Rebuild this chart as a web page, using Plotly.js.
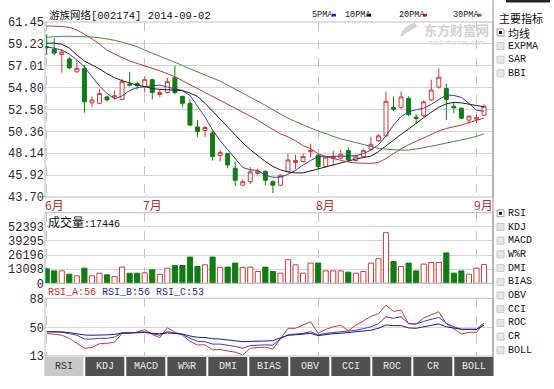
<!DOCTYPE html>
<html><head><meta charset="utf-8">
<script src="https://cdn.plot.ly/plotly-3.0.1.min.js"></script>
<style>html,body{margin:0;padding:0;background:#fff}#chart{width:554px;height:389px}</style>
</head><body><div id="chart"></div>
<script>
const dates = [
 '2014-06-12','2014-06-13','2014-06-16','2014-06-17','2014-06-18','2014-06-19','2014-06-20','2014-06-23','2014-06-24','2014-06-25','2014-06-26','2014-06-27','2014-06-30',
 '2014-07-01','2014-07-02','2014-07-03','2014-07-04','2014-07-07','2014-07-08','2014-07-09','2014-07-10','2014-07-11','2014-07-14','2014-07-15','2014-07-16','2014-07-17','2014-07-18','2014-07-21','2014-07-22','2014-07-23','2014-07-24','2014-07-25','2014-07-28','2014-07-29','2014-07-30','2014-07-31',
 '2014-08-01','2014-08-04','2014-08-05','2014-08-06','2014-08-07','2014-08-08','2014-08-11','2014-08-12','2014-08-13','2014-08-14','2014-08-15','2014-08-18','2014-08-19','2014-08-20','2014-08-21','2014-08-22','2014-08-25','2014-08-26','2014-08-27','2014-08-28','2014-08-29',
 '2014-09-01','2014-09-02'];
const openP  = [58.95,58.7,58.15,57.7,56.4,56.75,53.25,53.2,53.85,53.85,53.6,55.15,55.2,54.9,55.6,54.1,54.3,55.8,53.9,53.2,50.8,50.45,50.2,47.9,48.1,46.6,44.9,45.25,46.1,46.3,45.25,44.9,46.3,47.2,47.3,48.3,47.95,46.8,47.6,47.65,48.4,47.4,47.8,48.55,49.4,49.9,52.8,52.8,53.7,51.8,51.95,53.55,54.85,54.7,52.9,52.7,51.5,51.6,52.0];
const highP  = [60.2,59.8,58.7,57.9,57.6,57.1,53.9,54.65,54.0,54.5,55.7,56.4,55.4,55.9,55.7,54.6,55.8,57.0,54.0,53.6,51.5,50.9,50.4,48.5,48.15,47.3,45.5,46.75,46.6,46.4,45.4,46.0,48.1,48.0,48.1,49.1,48.0,47.9,48.4,48.5,48.7,48.0,48.6,49.8,50.1,54.4,53.9,54.4,53.9,52.1,53.5,55.6,56.75,55.2,53.3,52.8,52.0,52.1,53.1];
const lowP   = [58.1,58.1,56.3,56.65,56.3,52.25,52.8,53.1,53.4,53.6,53.5,54.9,54.6,54.3,53.6,53.8,54.2,54.1,52.8,50.9,49.8,49.8,47.4,47.3,46.6,44.8,44.85,45.0,45.9,44.9,44.1,44.8,46.2,46.5,47.2,47.7,46.6,46.7,46.9,47.5,47.3,47.3,47.7,48.4,49.3,49.8,52.4,52.6,51.9,51.1,51.8,53.4,54.7,51.5,52.2,51.6,51.1,51.2,51.9];
const closeP = [58.85,58.3,58.4,56.8,56.75,53.35,53.55,54.2,53.55,53.95,55.4,55.05,55.0,55.6,54.3,54.3,55.4,54.3,53.2,51.0,50.35,50.75,47.8,48.2,46.95,45.4,45.25,46.25,46.3,45.4,44.9,45.9,47.45,47.4,47.8,48.4,46.8,47.75,47.8,48.05,47.45,47.85,48.4,49.05,49.9,53.4,52.6,53.85,52.05,51.65,53.35,54.55,55.85,53.6,52.75,51.7,51.9,51.75,52.9];
const volume = [13400,11500,11500,8400,6900,14000,6900,9400,7800,6200,15000,9300,9300,9700,12500,8400,14000,16500,16500,24300,15600,17100,24300,14700,15000,18700,14700,15000,10900,15000,10900,9400,21800,17100,9400,18700,18700,11500,11500,11500,10300,9400,10900,18700,22700,46800,20200,15600,18700,11500,17800,19300,19300,28100,9400,11500,8400,14000,17446];
const ma5  = [58.9,58.8,58.6,58.2,57.6,56.9,55.9,54.95,54.2,53.65,53.95,54.5,54.8,54.9,55.0,55.05,54.85,54.7,54.5,54.0,52.9,51.8,50.5,49.4,48.5,47.6,46.7,46.45,46.4,45.9,45.7,45.7,46.0,46.4,46.95,47.4,47.8,47.8,47.8,47.85,47.85,47.9,48.1,48.45,49.0,49.9,51.0,51.85,52.35,52.55,52.7,53.1,53.6,54.05,54.0,53.8,53.2,52.5,52.4];
const ma10 = [59.3,59.3,59.2,58.8,58.1,57.5,57.1,56.7,56.2,55.8,55.5,55.25,55.05,54.9,54.7,54.62,54.57,54.55,54.5,54.25,53.9,53.2,52.4,51.6,50.7,50.0,49.2,48.5,47.9,47.3,46.8,46.45,46.25,46.15,46.15,46.35,46.6,46.8,47.0,47.2,47.35,47.55,47.7,47.85,48.3,48.9,49.5,50.05,50.6,51.2,51.75,52.3,52.8,53.15,53.3,53.25,53.1,52.95,52.85];
const ma20 = [61.05,61.05,61.0,60.9,60.65,60.2,59.75,59.2,58.6,58.2,57.85,57.5,57.25,57.0,56.8,56.5,56.2,55.9,55.5,55.1,54.7,54.3,53.9,53.45,53.05,52.65,52.25,51.9,51.5,51.0,50.55,50.1,49.8,49.4,48.9,48.6,48.1,47.8,47.6,47.4,47.25,47.15,47.1,47.1,47.2,47.6,48.1,48.6,49.0,49.35,49.75,50.1,50.4,50.65,50.8,51.0,51.25,51.45,51.7];
const ma30 = [59.9,59.97,60.0,60.0,60.0,59.97,59.93,59.85,59.75,59.6,59.4,59.2,58.95,58.6,58.3,58.0,57.7,57.4,57.05,56.7,56.4,56.1,55.8,55.45,55.05,54.65,54.25,53.85,53.45,53.0,52.55,52.1,51.7,51.35,51.0,50.7,50.4,50.1,49.85,49.6,49.4,49.2,49.0,48.8,48.65,48.55,48.48,48.45,48.45,48.55,48.7,48.85,49.0,49.15,49.3,49.48,49.65,49.85,50.1];
const rsiA = [42.5,41,40,36,30,23,24,29,29.5,31,42.5,42.5,44,47.5,41,37,49.8,44,40,32,27.3,27.5,21,21.5,19.5,18,14.5,23,24,24.5,22,36,49,49,53,57.5,42.5,47.5,51,53,46,53,58.5,64.5,68,79,71,72.5,55,54.6,62.5,66.5,70.5,55,48,41.6,43.8,43.8,56];
const rsiB = [44.6,44.6,44,42,40,35,35,36,36,37.5,43,43,43.5,44.6,42,40,44.6,43,41,36,32,31.5,28.5,28.5,27,25.5,23,26.5,27,27.5,27,35.5,40.5,41.5,42.5,44.6,40.3,42.5,43.5,44.6,45.5,46.5,48.5,51,55,64,62,64,55,54.6,58,61,63.3,55.5,51,47.7,47.7,47.7,56];
const rsiC = [44.6,44.6,44.3,43.5,42,40.3,40,40,40.5,41,43,43,43,43.5,42.5,42,43,42.5,41.5,39,37.3,37,35.5,35,34,33,31.6,32,32,32.5,33,36.5,40,40.5,41.5,42.5,39.5,41,42,42.5,43.5,44.5,45.5,46.5,49,53.3,52.5,52.5,49.5,49,51,52.5,54.6,51,49,47.7,47.7,47.7,53];
const priceTicks = [43.70,45.92,48.14,50.36,52.58,54.80,57.01,59.23,61.45];
const volTicks = [0,13098,26196,39295,52393];
const rsiTicks = [13,50,88];
const monthStarts = ['2014-06-12','2014-07-01','2014-08-01','2014-09-01'];
const monthLabels = ['6月','7月','8月','9月'];
const maNames = ['5PMA','10PMA','20PMA','30PMA'];
const mainChecks = ['均线','EXPMA','SAR','BBI'];
const subChecks = ['RSI','KDJ','MACD','W%R','DMI','BIAS','OBV','CCI','ROC','CR','BOLL'];
const tabs = ['RSI','KDJ','MACD','W%R','DMI','BIAS','OBV','CCI','ROC','CR','BOLL'];

const UP='#d23a3a', DOWN='#0f7d12';
const MACOL=['#3a3aa8','#1e1e1e','#b83a3a','#3f8f3f'];
const LEGCOL=['#1a1ae0','#111111','#e01a1a','#18a018'];
const MONO='Liberation Mono, DejaVu Sans Mono, monospace';
const CJK='Noto Sans CJK SC, sans-serif';

const L=45, R=493, T=22, B=356;
const X = p => (p-L)/(R-L);
const Y = p => (B-p)/(B-T);

const n = dates.length;
const xr = [-0.225, 59.19];
const up = openP.map((o,i)=>closeP[i]>=o);

const traces = [
  {type:'candlestick', x:dates, open:openP, high:highP, low:lowP, close:closeP, xaxis:'x', yaxis:'y',
   increasing:{line:{color:UP,width:1}, fillcolor:'#ffffff'},
   decreasing:{line:{color:DOWN,width:1}, fillcolor:DOWN}, whiskerwidth:0, hoverinfo:'skip'},
];
[ma5,ma10,ma20,ma30].forEach((m,k)=>traces.push({type:'scatter',mode:'lines',x:dates,y:m,xaxis:'x',yaxis:'y',
   line:{color:MACOL[k],width:1},hoverinfo:'skip'}));
traces.push({type:'bar', x:dates, y:volume, xaxis:'x2', yaxis:'y2', width:0.68,
   marker:{color:up.map(u=>u?'#ffffff':DOWN), line:{color:up.map(u=>u?UP:DOWN), width:1}}, hoverinfo:'skip'});
[[rsiA,'#c83a3a'],[rsiB,'#3c3cb4'],[rsiC,'#1c1c7c']].forEach(([r,c])=>traces.push({type:'scatter',mode:'lines',x:dates,y:r,
   xaxis:'x3',yaxis:'y3',line:{color:c,width:1},hoverinfo:'skip'}));

const xcommon = {type:'category', range:xr, showticklabels:false, tickvals:monthStarts, ticks:'',
  showgrid:true, gridcolor:'#c4c4c4', griddash:'dash', gridwidth:1, zeroline:false, showline:false, fixedrange:true,
  rangeslider:{visible:false}};
const ycommon = {ticks:'', showgrid:true, gridcolor:'#d6d6d6', gridwidth:1, zeroline:false, showline:false,
  tickfont:{family:MONO,size:12,color:'#2a2a2a'}, fixedrange:true};

const shapes = [];
const ann = [];
// panel frames
[[T,197],[212.7,283.3],[298.3,B]].forEach(([a,b])=>shapes.push({type:'rect',xref:'paper',yref:'paper',
  x0:0,x1:1,y0:Y(b),y1:Y(a),line:{color:'#bdbdbd',width:1},fillcolor:'rgba(0,0,0,0)',layer:'above'}));
shapes.push({type:'line',xref:'paper',yref:'paper',x0:X(493),x1:X(493),y0:Y(0),y1:Y(376),line:{color:'#8a8a8a',width:1}});
shapes.push({type:'rect',xref:'paper',yref:'paper',x0:X(506),x1:X(550),y0:Y(2.5),y1:Y(0),line:{width:0},fillcolor:'#222'});

// title
ann.push({xref:'paper',yref:'paper',x:X(47),y:Y(14.5),xanchor:'left',yanchor:'middle',showarrow:false,
  text:'<span style="font-family:Noto Sans CJK SC">游族网络</span>[002174] 2014-09-02',
  font:{family:MONO,size:10.5,color:'#111'}});
// watermark (inside the price panel, top right)
shapes.push({type:'path',xref:'paper',yref:'paper',layer:'below',
  path:'M '+X(414)+' '+Y(24)+' Q '+X(404)+' '+Y(27)+' '+X(401)+' '+Y(36)+' Q '+X(406)+' '+Y(31)+' '+X(416)+' '+Y(26)+' Z',
  line:{color:'#d4d4d4',width:2},fillcolor:'#d4d4d4'});
ann.push({xref:'paper',yref:'paper',x:X(456),y:Y(29.5),xanchor:'center',yanchor:'middle',showarrow:false,borderpad:0,
  text:'<b>东方财富网</b>',font:{family:CJK,size:13,color:'#d2d2d2'}});
ann.push({xref:'paper',yref:'paper',x:X(457),y:Y(43),xanchor:'center',yanchor:'middle',showarrow:false,borderpad:0,
  text:'east money.com',font:{family:'DejaVu Sans',size:7,color:'#d6d6d6'}});
// MA legend
const legX=[310.5,343.5,398,451.5], sqX=[332,367,423,477.5];
maNames.forEach((t,k)=>{
  ann.push({xref:'paper',yref:'paper',x:X(legX[k]),y:Y(15),xanchor:'left',yanchor:'middle',showarrow:false,borderpad:0,
    text:t,font:{family:MONO,size:8.5,color:'#222'}});
  shapes.push({type:'rect',xref:'paper',yref:'paper',x0:X(sqX[k]),x1:X(sqX[k]+4),y0:Y(16.5),y1:Y(13.8),
    line:{width:0},fillcolor:LEGCOL[k]});
});
// month labels
monthStarts.forEach((d,k)=>ann.push({xref:'x',yref:'paper',x:d,y:Y(205),xanchor:'left',yanchor:'middle',xshift:-4,
  showarrow:false,text:monthLabels[k],font:{family:CJK,size:12,color:'#b23030'}}));
// volume title
ann.push({xref:'paper',yref:'paper',x:X(46),y:Y(221.5),xanchor:'left',yanchor:'middle',showarrow:false,
  text:'<span style="font-family:Noto Sans CJK SC;font-size:12px">成交量</span>:'+volume[n-1],
  font:{family:MONO,size:10,color:'#111'}});
// RSI title
ann.push({xref:'paper',yref:'paper',x:X(45.5),y:Y(292.5),xanchor:'left',yanchor:'middle',showarrow:false,
  text:'<span style="color:#c83030">RSI_A:'+Math.round(rsiA[n-1])+'</span> <span style="color:#2e2e96">RSI_B:'+Math.round(rsiB[n-1])+
  '</span> <span style="color:#2e2e96">RSI_C:'+Math.round(rsiC[n-1])+'</span>',
  font:{family:MONO,size:10,color:'#333'}});
// right panel
ann.push({xref:'paper',yref:'paper',x:X(496.5),y:Y(18),xanchor:'left',yanchor:'middle',showarrow:false,
  text:'主要指标',font:{family:CJK,size:11,color:'#111'}});
function check(label, cy, on){
  shapes.push({type:'rect',xref:'paper',yref:'paper',x0:X(497),x1:X(504),y0:Y(cy+3.5),y1:Y(cy-3.5),
    line:{color:on?'#9a9a9a':'#c8c8c8',width:1},fillcolor:on?'#ffffff':'#e6e6e6'});
  if(on) shapes.push({type:'rect',xref:'paper',yref:'paper',x0:X(499),x1:X(502),y0:Y(cy+1.5),y1:Y(cy-1.5),
    line:{width:0},fillcolor:'#111'});
  const cj = /[^\x00-\x7f]/.test(label);
  ann.push({xref:'paper',yref:'paper',x:X(506),y:Y(cy),xanchor:'left',yanchor:'middle',showarrow:false,
    text:label,font:{family:cj?CJK:MONO,size:cj?11:10,color:'#111'}});
}
mainChecks.forEach((t,k)=>check(t,32.5+13.6*k,k===0));
subChecks.forEach((t,k)=>check(t,213.3+13.7*k,k===0));
// tabs
tabs.forEach((t,k)=>{
  const x0=44.3+41*k;
  shapes.push({type:'rect',xref:'paper',yref:'paper',x0:X(x0),x1:X(x0+39),y0:Y(376),y1:Y(357),
    line:{width:0},fillcolor:k===0?'#c9c9c9':'#505050'});
  ann.push({xref:'paper',yref:'paper',x:X(x0+19.5),y:Y(366.5),xanchor:'center',yanchor:'middle',showarrow:false,
    text:t,font:{family:MONO,size:10,color:k===0?'#333':'#e8e8e8'}});
});

const layout = {
  width:554, height:389, margin:{l:L,r:554-R,t:T,b:389-B}, paper_bgcolor:'#fff', plot_bgcolor:'#fff',
  showlegend:false, hovermode:false, boxgap:0.25,
  xaxis:Object.assign({anchor:'y'},xcommon),
  xaxis2:Object.assign({anchor:'y2'},xcommon),
  xaxis3:Object.assign({anchor:'y3'},xcommon),
  yaxis:Object.assign({domain:[Y(197),1], range:[43.70,61.45], tickvals:priceTicks, ticktext:priceTicks.map(v=>v.toFixed(2))},ycommon),
  yaxis2:Object.assign({domain:[Y(283.3),Y(212.7)], range:[0,65353], tickvals:volTicks, ticktext:volTicks.map(String)},ycommon),
  yaxis3:Object.assign({domain:[0,Y(298.3)], range:[13,88], tickvals:rsiTicks, ticktext:rsiTicks.map(String)},ycommon),
  shapes:shapes, annotations:ann
};
Plotly.newPlot('chart', traces, layout, {displayModeBar:false, staticPlot:true});
</script></body></html>
